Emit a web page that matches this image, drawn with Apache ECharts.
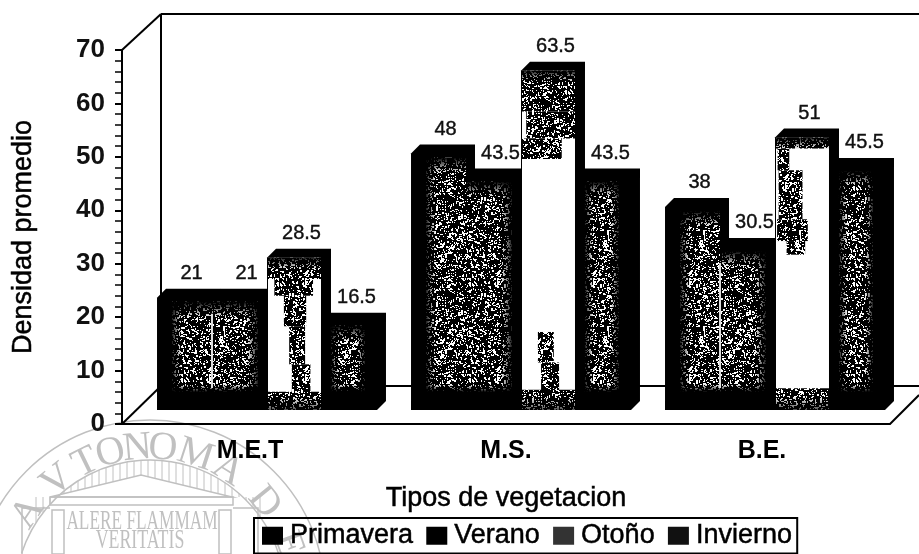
<!DOCTYPE html>
<html>
<head>
<meta charset="utf-8">
<style>html,body{margin:0;padding:0;background:#fff}#chart{width:919px;height:554px}</style>
<script src="https://cdn.jsdelivr.net/npm/echarts@6/dist/echarts.min.js"></script>
</head>
<body>
<div id="chart"></div>
<script>
const categories = ['M.E.T', 'M.S.', 'B.E.'];
const primavera = [21, 48, 38];
const verano = [21, 43.5, 30.5];
const otono = [28.5, 63.5, 51];
const invierno = [16.5, 43.5, 45.5];
const yTicks = [0, 10, 20, 30, 40, 50, 60, 70];

const FONT = '"Liberation Sans", Arial, sans-serif';
const SERIF = '"Liberation Serif", serif';
const WM = '#c0c0c0';
const BAR_FRAC = 0.2165;
const DEPTH = 9;

// speckle fill for the scanned bars, fixed generator so every run looks the same
function makeTile(share) {
  const size = 96;
  const c = document.createElement('canvas');
  c.width = c.height = size;
  const g = c.getContext('2d');
  g.fillStyle = '#000';
  g.fillRect(0, 0, size, size);
  g.fillStyle = '#fff';
  let seed = 12345;
  for (let y = 0; y < size; y++) {
    for (let x = 0; x < size; x++) {
      seed = (seed * 1103515 + 12345) % 2147483647;
      const n = seed % 100;
      if (n < share) g.fillRect(x, y, n % 3 === 0 ? 2 : 1, n % 4 === 0 ? 2 : 1);
    }
  }
  return c;
}
const tile = { image: makeTile(17), repeat: 'repeat' };

// inner speckled part of each dark bar: left/right margins
const margins = [[15, 0], [0, 9], null, [9, 12]];
// speckle patches on the white Otoño bars, as fractions of the front face
const otonoPatches = [
  [[0, 0, 1, 0.14], [0.12, 0.14, 0.85, 0.25], [0.3, 0.25, 0.72, 0.45], [0.4, 0.45, 0.7, 0.7], [0.45, 0.7, 0.8, 0.9], [0, 0.88, 1, 1]],
  [[0, 0, 1, 0.12], [0.08, 0.12, 1, 0.2], [0, 0.2, 0.75, 0.26], [0.3, 0.77, 0.6, 0.86], [0.36, 0.86, 0.7, 0.95], [0, 0.94, 1, 1]],
  [[0, 0, 1, 0.04], [0.03, 0.04, 0.25, 0.12], [0.05, 0.12, 0.5, 0.3], [0.02, 0.3, 0.6, 0.38], [0.2, 0.38, 0.55, 0.43], [0, 0.92, 1, 1]],
];

function linear(x, y, x2, y2, stops) {
  return new echarts.graphic.LinearGradient(x, y, x2, y2, stops);
}

function barRenderer(seriesPos) {
  return function (params, api) {
    const cat = api.value(0);
    const val = api.value(1);
    const band = api.size([1, 0])[0];
    const w = band * BAR_FRAC;
    const base = api.coord([cat, 0]);
    const top = api.coord([cat, val]);
    const x = base[0] + (seriesPos - 2) * w;
    const y0 = base[1];
    const yt = top[1];
    const d = DEPTH;
    const children = [];

    children.push({
      type: 'polygon',
      shape: { points: [[x, y0], [x, yt], [x + d, yt - d], [x + w + d, yt - d], [x + w + d, y0 - d], [x + w, y0]] },
      style: { fill: '#000' },
    });

    if (seriesPos === 2) {
      children.push({ type: 'rect', shape: { x: x + 1, y: yt, width: w - 2, height: y0 - yt }, style: { fill: '#fff' } });
      otonoPatches[cat].forEach(p => {
        children.push({
          type: 'rect',
          shape: { x: x + 1 + p[0] * (w - 2), y: yt + p[1] * (y0 - yt), width: (p[2] - p[0]) * (w - 2), height: (p[3] - p[1]) * (y0 - yt) },
          style: { fill: tile },
        });
      });
      children.push({
        type: 'rect',
        shape: { x: x, y: y0 - 14, width: w, height: 14 },
        style: { fill: linear(0, 0, 0, 1, [{ offset: 0, color: 'rgba(0,0,0,0)' }, { offset: 1, color: 'rgba(0,0,0,0.7)' }]) },
      });
      children.push({
        type: 'rect',
        shape: { x: x, y: yt, width: w, height: 12 },
        style: { fill: linear(0, 0, 0, 1, [{ offset: 0, color: 'rgba(0,0,0,0.9)' }, { offset: 1, color: 'rgba(0,0,0,0)' }]) },
      });
    } else {
      const m = margins[seriesPos];
      const ix = x + m[0];
      const iw = w - m[0] - m[1];
      const iy = yt + 4;
      const ih = y0 - 18 - iy;
      children.push({ type: 'rect', shape: { x: ix, y: iy, width: iw, height: ih }, style: { fill: tile } });
      children.push({
        type: 'rect',
        shape: { x: ix, y: iy, width: iw, height: ih },
        style: { fill: linear(0, 0, 0, 1, [
          { offset: 0, color: 'rgba(0,0,0,1)' },
          { offset: Math.min(0.45, 16 / ih), color: 'rgba(0,0,0,0)' },
          { offset: 1 - Math.min(0.45, 8 / ih), color: 'rgba(0,0,0,0)' },
          { offset: 1, color: 'rgba(0,0,0,1)' },
        ]) },
      });
      children.push({
        type: 'rect',
        shape: { x: ix, y: iy, width: iw, height: ih },
        style: { fill: linear(0, 0, 1, 0, [
          { offset: 0, color: m[0] ? 'rgba(0,0,0,0.9)' : 'rgba(0,0,0,0)' },
          { offset: 0.25, color: 'rgba(0,0,0,0)' },
          { offset: 0.75, color: 'rgba(0,0,0,0)' },
          { offset: 1, color: m[1] ? 'rgba(0,0,0,0.9)' : 'rgba(0,0,0,0)' },
        ]) },
      });
      // light seam where Primavera meets Verano on the first and last group
      if (seriesPos === 1 && cat !== 1) {
        children.push({ type: 'rect', shape: { x: x - 1, y: iy + 12, width: 2, height: ih - 16 }, style: { fill: '#ddd' } });
      }
    }

    children.push({
      type: 'text',
      style: {
        x: x + w / 2 + 7,
        y: yt - d - 15.5,
        text: String(val),
        font: '20px ' + FONT,
        fill: '#111',
        stroke: '#111',
        lineWidth: 0.4,
        align: 'center',
        verticalAlign: 'middle',
      },
    });
    return { type: 'group', children: children };
  };
}

function barSeries(name, values, pos) {
  return {
    name: name,
    type: 'custom',
    xAxisIndex: 1,
    yAxisIndex: 1,
    clip: false,
    renderItem: barRenderer(pos),
    encode: { x: 0, y: 1 },
    itemStyle: { color: '#000' },
    data: values.map((v, i) => [i, v]),
    z: 2 + pos,
  };
}

// 3D box behind the bars
const frame = [
  [122, 50, 161, 14], [161, 14, 919, 14], [161, 14, 161, 386],
  [122, 424, 161, 386], [161, 386, 919, 386], [890, 424, 919, 395],
];
const frameLines = frame.map(l => ({
  type: 'line',
  shape: { x1: l[0], y1: l[1], x2: l[2], y2: l[3] },
  style: { stroke: '#000', lineWidth: 2 },
}));

// seal printed behind the lower left of the scan
const sealX = 150, sealY = 595;
const sealLine = { fill: 'none', stroke: WM, lineWidth: 1.5 };
const sealLetters = [['A', -56], ['V', -39], ['T', -26], ['O', -15.5], ['N', -5], ['O', 5], ['M', 18], ['A', 32], ['D', 51], ['E', 70]];
const sealFlutes = [];
for (let fx = 36; fx <= 262; fx += 7) {
  const arcTop = sealY - Math.sqrt(135 * 135 - (fx - sealX) * (fx - sealX));
  const roof = Math.min(497, 475 + Math.abs(fx - 141) * 22 / 91);
  sealFlutes.push({ type: 'line', shape: { x1: fx, y1: arcTop, x2: fx, y2: roof }, style: { stroke: WM, lineWidth: 1 } });
}
const seal = [
  { type: 'circle', shape: { cx: sealX, cy: sealY, r: 175 }, style: sealLine },
  { type: 'arc', shape: { cx: sealX, cy: sealY, r: 135, startAngle: Math.PI * 1.1, endAngle: Math.PI * 1.9 }, style: sealLine },
  { type: 'polyline', shape: { points: [[50, 497], [141, 475], [232, 497], [50, 497]] }, style: sealLine },
  { type: 'rect', shape: { x: 50, y: 497, width: 183, height: 8 }, style: sealLine },
  { type: 'polyline', shape: { points: [[22, 554], [22, 508], [50, 508]] }, style: sealLine },
  { type: 'polyline', shape: { points: [[258, 554], [258, 508], [233, 508]] }, style: sealLine },
  { type: 'rect', shape: { x: 52, y: 510, width: 12, height: 44 }, style: sealLine },
  { type: 'rect', shape: { x: 219, y: 510, width: 12, height: 44 }, style: sealLine },
  { type: 'text', x: 142, y: 522, scaleX: 0.64, style: { text: 'ALERE FLAMMAM', font: '27px ' + SERIF, fill: WM, align: 'center', verticalAlign: 'middle' } },
  { type: 'text', x: 140, y: 541, scaleX: 0.66, style: { text: 'VERITATIS', font: '27px ' + SERIF, fill: WM, align: 'center', verticalAlign: 'middle' } },
].concat(sealFlutes, sealLetters.map(l => {
  const a = l[1] * Math.PI / 180;
  return {
    type: 'text',
    x: sealX + 147 * Math.sin(a),
    y: sealY - 147 * Math.cos(a),
    rotation: -a,
    style: { text: l[0], font: '40px ' + SERIF, fill: WM, align: 'center', verticalAlign: 'middle' },
  };
}));

const heavy = { textBorderColor: '#000', textBorderWidth: 0.5 };

const chart = echarts.init(document.getElementById('chart'));
chart.setOption({
  animation: false,
  backgroundColor: '#fff',
  graphic: seal.concat(frameLines).map(e => Object.assign({ silent: true, z: -1 }, e)),
  legend: {
    left: 254,
    top: 518,
    orient: 'horizontal',
    padding: [4, 5, 4, 8],
    itemGap: 13,
    itemWidth: 21,
    itemHeight: 18,
    borderColor: '#000',
    borderWidth: 2,
    selectedMode: false,
    textStyle: Object.assign({ fontFamily: FONT, fontSize: 27, color: '#000', padding: [0, 0, 0, 2] }, heavy),
    data: [
      { name: 'Primavera', icon: 'rect', itemStyle: { color: '#000' } },
      { name: 'Verano', icon: 'rect', itemStyle: { color: '#000' } },
      { name: 'Otoño', icon: 'rect', itemStyle: { color: '#333' } },
      { name: 'Invierno', icon: 'rect', itemStyle: { color: '#111' } },
    ],
  },
  grid: [
    { left: 122, top: 50, width: 768, height: 374 },
    { left: 140, top: 36, width: 762, height: 374 },
  ],
  xAxis: [
    {
      type: 'category',
      gridIndex: 0,
      data: categories,
      axisLine: { lineStyle: { color: '#000', width: 2 } },
      axisTick: { show: false },
      axisLabel: { margin: 15, fontFamily: FONT, fontSize: 25, fontWeight: 'bold', color: '#000' },
      name: 'Tipos de vegetacion',
      nameLocation: 'middle',
      nameGap: 61,
      nameTextStyle: Object.assign({ fontFamily: FONT, fontSize: 27, color: '#000' }, heavy),
    },
    { type: 'category', gridIndex: 1, data: categories, show: false },
  ],
  yAxis: [
    {
      type: 'value',
      gridIndex: 0,
      min: yTicks[0],
      max: yTicks[yTicks.length - 1],
      interval: 10,
      axisLine: { show: true, lineStyle: { color: '#000', width: 2 } },
      axisTick: { show: true, length: 7, lineStyle: { color: '#000', width: 2 } },
      minorTick: { show: true, splitNumber: 5, length: 7, lineStyle: { color: '#000', width: 1.5 } },
      splitLine: { show: false },
      axisLabel: { margin: 17, fontFamily: FONT, fontSize: 26, fontWeight: 'bold', color: '#111' },
      name: 'Densidad promedio',
      nameLocation: 'middle',
      nameGap: 85,
      nameTextStyle: Object.assign({ fontFamily: FONT, fontSize: 27, color: '#000' }, heavy),
    },
    { type: 'value', gridIndex: 1, min: 0, max: 70, interval: 10, show: false },
  ],
  series: [
    barSeries('Primavera', primavera, 0),
    barSeries('Verano', verano, 1),
    barSeries('Otoño', otono, 2),
    barSeries('Invierno', invierno, 3),
  ],
});
</script>
</body>
</html>
